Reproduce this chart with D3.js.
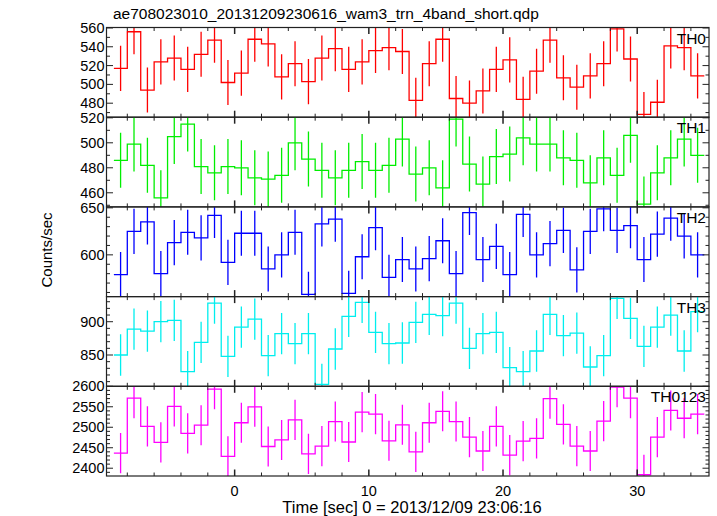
<!DOCTYPE html>
<html><head><meta charset="utf-8">
<script src="https://cdn.jsdelivr.net/npm/d3@7"></script>
<style>body{margin:0;background:#fff}svg{display:block}text{font-family:"Liberation Sans",Arial,sans-serif;fill:#000}</style>
</head><body><svg id="c" width="717" height="516"></svg>
<script>
const times = [-8.5,-7.5,-6.5,-5.5,-4.5,-3.5,-2.5,-1.5,-0.5,0.5,1.5,2.5,3.5,4.5,5.5,6.5,7.5,8.5,9.5,10.5,11.5,12.5,13.5,14.5,15.5,16.5,17.5,18.5,19.5,20.5,21.5,22.5,23.5,24.5,25.5,26.5,27.5,28.5,29.5,30.5,31.5,32.5,33.5,34.5];
const binHalfWidth = 0.5;
const th0 = [517,556,494,524,528,516,532,547,502,512,548,543,508,522,503,528,538,516,524,536,539,535,483,522,548,485,480,493,516,526,484,514,547,507,497,509,522,559,527,468,481,541,539,509];
const th1 = [486,499,482,456,505,515,481,476,481,480,472,471,474,500,487,478,472,478,485,478,482,503,475,480,464,519,483,467,489,491,504,499,499,488,486,468,488,474,506,451,476,488,503,490];
const th2 = [579,625,635,580,613,624,618,642,592,623,623,585,600,624,558,633,638,559,598,629,576,595,585,596,615,580,645,595,609,579,643,600,612,626,584,625,649,626,631,595,622,639,620,600];
const th3 = [850,889,886,900,902,825,869,928,848,892,904,849,882,867,882,806,859,908,929,884,867,868,899,911,909,928,860,882,884,831,825,856,911,879,883,832,849,935,905,863,892,910,856,915];
const th0123 = [2437,2571,2502,2463,2551,2485,2505,2593,2429,2511,2550,2453,2469,2518,2435,2454,2514,2464,2537,2532,2467,2506,2440,2511,2539,2514,2476,2442,2502,2432,2466,2473,2570,2507,2454,2442,2515,2598,2571,2384,2476,2541,2522,2532];
const errTH0 = 24, errTH1 = 22, errTH2 = 24, errTH3 = 31, errTH0123 = 49;
const panelNames = ["TH0","TH1","TH2","TH3","TH0123"];
const yTicksTH0 = [480,500,520,540,560];
const yTicksTH1 = [460,480,500,520];
const yTicksTH2 = [600,650];
const yTicksTH3 = [850,900];
const yTicksTH0123 = [2400,2450,2500,2550,2600];
const xTickLabels = [0,10,20,30];
const title = "ae708023010_20131209230616_wam3_trn_4band_short.qdp";
const xLabel = "Time [sec] 0 = 2013/12/09 23:06:16";
const yLabel = "Counts/sec";

const panels = [
  {name:panelNames[0], vals:th0, err:errTH0, ticks:yTicksTH0, dom:[465.1,560.5], color:"#ff0000", minor:10},
  {name:panelNames[1], vals:th1, err:errTH1, ticks:yTicksTH1, dom:[448.7,520.5], color:"#00ee00", minor:10},
  {name:panelNames[2], vals:th2, err:errTH2, ticks:yTicksTH2, dom:[555.6,651], color:"#0000ff", minor:10},
  {name:panelNames[3], vals:th3, err:errTH3, ticks:yTicksTH3, dom:[803,937.7], color:"#00eeee", minor:10},
  {name:panelNames[4], vals:th0123, err:errTH0123, ticks:yTicksTH0123, dom:[2381,2600], color:"#ff00ff", minor:10}
];

const svg = d3.select("#c");
const L = 106.5, R = 709, T = 27.5, B = 476;
const ph = (B - T) / panels.length;
const x = d3.scaleLinear().domain([-9.55, 35.35]).range([L, R]);
const frameColor = "#222";

svg.append("text").attr("x", 113).attr("y", 19).attr("font-size", 15.5).text(title);

panels.forEach((p, i) => {
  const top = T + i * ph, bot = top + ph;
  const y = d3.scaleLinear().domain(p.dom).range([bot, top]);
  const g = svg.append("g");
  const cid = "clip" + i;
  svg.append("clipPath").attr("id", cid).append("rect").attr("x", L).attr("y", top).attr("width", R - L).attr("height", ph);
  const dg = g.append("g").attr("clip-path", `url(#${cid})`);
  const pts = [];
  times.forEach((t, k) => pts.push([t - binHalfWidth, p.vals[k]]));
  pts.push([times[times.length - 1] + binHalfWidth, p.vals[p.vals.length - 1]]);
  const line = d3.line().x(d => x(d[0])).y(d => y(d[1])).curve(d3.curveStepAfter);
  dg.append("path").attr("d", line(pts)).attr("fill", "none").attr("stroke", p.color).attr("stroke-width", 1.3);
  dg.selectAll("line.e").data(times).enter().append("line")
    .attr("x1", d => x(d)).attr("x2", d => x(d))
    .attr("y1", (d, k) => y(p.vals[k] - p.err)).attr("y2", (d, k) => y(p.vals[k] + p.err))
    .attr("stroke", p.color).attr("stroke-width", 1.3);
  g.append("rect").attr("x", L).attr("y", top).attr("width", R - L).attr("height", ph)
    .attr("fill", "none").attr("stroke", frameColor).attr("stroke-width", 1.2);
  const xMinor = d3.range(-8, 36, 2);
  xMinor.forEach(t => {
    const major = t % 10 === 0;
    const len = major ? 6.5 : 3.5;
    g.append("line").attr("x1", x(t)).attr("x2", x(t)).attr("y1", bot).attr("y2", bot - len).attr("stroke", frameColor).attr("stroke-width", major ? 1.5 : 1);
    g.append("line").attr("x1", x(t)).attr("x2", x(t)).attr("y1", top).attr("y2", top + len).attr("stroke", frameColor).attr("stroke-width", major ? 1.5 : 1);
  });
  const yMin = d3.range(Math.ceil(p.dom[0] / p.minor) * p.minor, p.dom[1] + 0.01, p.minor);
  yMin.forEach(v => {
    const major = p.ticks.includes(v);
    const len = major ? 6.5 : 3.5;
    g.append("line").attr("x1", L).attr("x2", L + len).attr("y1", y(v)).attr("y2", y(v)).attr("stroke", frameColor).attr("stroke-width", 1);
    g.append("line").attr("x1", R).attr("x2", R - len).attr("y1", y(v)).attr("y2", y(v)).attr("stroke", frameColor).attr("stroke-width", 1);
  });
  p.ticks.forEach(v => {
    g.append("text").attr("x", L - 2).attr("y", y(v) + 5).attr("text-anchor", "end").attr("font-size", 14.5).text(v);
  });
  g.append("text").attr("x", 706).attr("y", top + 16).attr("text-anchor", "end").attr("font-size", 15.5).text(p.name);
});

xTickLabels.forEach(t => {
  svg.append("text").attr("x", x(t)).attr("y", 496).attr("text-anchor", "middle").attr("font-size", 14.5).text(t);
});
svg.append("text").attr("x", 412).attr("y", 513).attr("text-anchor", "middle").attr("font-size", 16.5).text(xLabel);
svg.append("text").attr("transform", "translate(52,250) rotate(-90)").attr("text-anchor", "middle").attr("font-size", 15).text(yLabel);
</script></body></html>
